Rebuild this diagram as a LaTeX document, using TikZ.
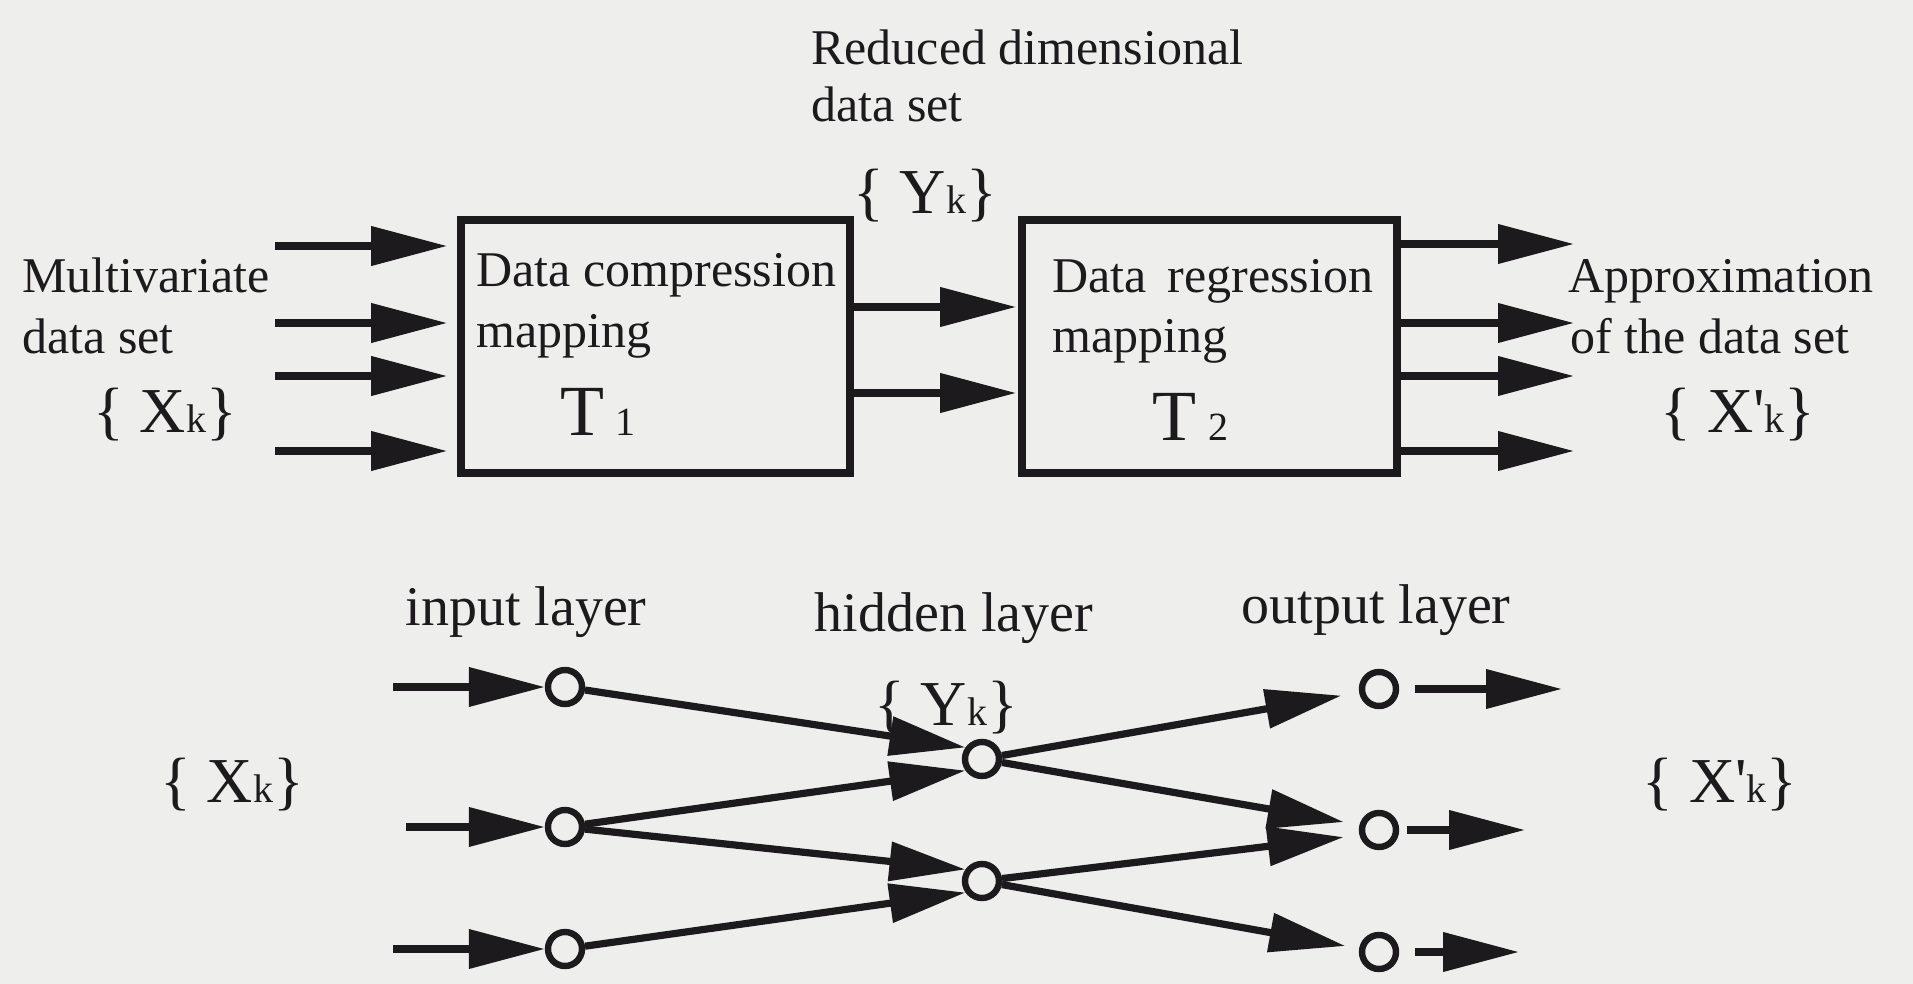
\documentclass[tikz,border=0pt]{standalone}
\usepackage{fontspec}
\setmainfont{Liberation Serif}
\usetikzlibrary{arrows.meta}
\definecolor{bg}{RGB}{238,238,236}
\definecolor{ink}{RGB}{28,26,28}
\newcommand{\smallsub}[1]{{\fontsize{20}{20}\selectfont #1}}
\begin{document}
\begin{tikzpicture}[x=0.5pt,y=-0.5pt,
  lbl/.style={font=\fontsize{25}{30}\selectfont, text=ink, inner sep=0pt},
  big/.style={font=\fontsize{32}{38}\selectfont, text=ink, inner sep=0pt},
  tbig/.style={font=\fontsize{36}{40}\selectfont, text=ink, inner sep=0pt},
  lay/.style={font=\fontsize{28}{34}\selectfont, text=ink, inner sep=0pt},
  box/.style={draw=ink, line width=3.8pt, inner sep=0pt},
  arr/.style={draw=ink, line width=3.6pt, -{Triangle[length=38pt,width=19pt]}},
  neuron/.style={circle, draw=ink, line width=3.2pt, minimum size=17pt, inner sep=0pt},
]
\fill[bg] (0,0) rectangle (1913,984);
\useasboundingbox (0,0) rectangle (1913,984);

% ---------- upper diagram ----------
\node[box, minimum width=194.5pt, minimum height=126.5pt] (b1) at (655.5,346.5) {};
\node[box, minimum width=187.5pt, minimum height=126.5pt] (b2) at (1209.5,346.5) {};

\node[lbl, anchor=base west] (red1) at (811,65) {Reduced dimensional};
\node[lbl, anchor=base west] (red2) at (811,122) {data set};
\node[big, anchor=base] (ytop) at (925,214) {\{ Y\smallsub{k}\}};

\node[lbl, anchor=base west] (mv1) at (22,293) {Multivariate};
\node[lbl, anchor=base west] (mv2) at (22,354) {data set};
\node[big, anchor=base] (xtop) at (165,432) {\{ X\smallsub{k}\}};

\node[lbl, anchor=base west] (dc1) at (476,287) {Data compression};
\node[lbl, anchor=base west] (dc2) at (476,348) {mapping};
\node[tbig, anchor=base] (t1) at (598,436) {T\,\smallsub{1}};

\node[lbl, anchor=base west] (dr1) at (1052,293) {Data\, regression};
\node[lbl, anchor=base west] (dr2) at (1052,353) {mapping};
\node[tbig, anchor=base] (t2) at (1190,441) {T\,\smallsub{2}};

\node[lbl, anchor=base west] (ap1) at (1568,293) {Approximation};
\node[lbl, anchor=base west] (ap2) at (1570,354) {of the data set};
\node[big, anchor=base] (xptop) at (1738,432) {\{ X\textquotesingle\smallsub{k}\}};

\coordinate (l1) at (275,246);
\coordinate (l2) at (275,323);
\coordinate (l3) at (275,376);
\coordinate (l4) at (275,451);
\foreach \c in {l1,l2,l3,l4}
  \draw[arr, shorten >=5pt] (\c) -- (\c -| b1.west);

\coordinate (m1) at (0,307);
\coordinate (m2) at (0,393);
\foreach \c in {m1,m2}
  \draw[arr, shorten >=1pt] (b1.east |- \c) -- (b2.west |- \c);

\coordinate (r1) at (1574,244);
\coordinate (r2) at (1574,323);
\coordinate (r3) at (1574,376);
\coordinate (r4) at (1574,451);
\foreach \c in {r1,r2,r3,r4}
  \draw[arr] (b2.east |- \c) -- (\c);

% ---------- lower diagram ----------
\node[lay, anchor=base] (inl) at (526,625) {input layer};
\node[lay, anchor=base] (hidl) at (954,631) {hidden layer};
\node[lay, anchor=base] (outl) at (1376,623) {output layer};

\node[big, anchor=base] (xbot) at (232,802) {\{ X\smallsub{k}\}};
\node[big, anchor=base] (ybot) at (946,725) {\{ Y\smallsub{k}\}};
\node[big, anchor=base] (xpbot) at (1720,802) {\{ X\textquotesingle\smallsub{k}\}};

\node[neuron] (i1) at (565,687) {};
\node[neuron] (i2) at (565,827) {};
\node[neuron] (i3) at (565,949) {};
\node[neuron] (h1) at (982,759) {};
\node[neuron] (h2) at (982,881) {};
\node[neuron] (o1) at (1379,689) {};
\node[neuron] (o2) at (1379,830) {};
\node[neuron] (o3) at (1379,952) {};

\coordinate (ia1) at (393,687);
\coordinate (ia2) at (406,827);
\coordinate (ia3) at (393,949);
\draw[arr] (ia1) -- (i1);
\draw[arr] (ia2) -- (i2);
\draw[arr] (ia3) -- (i3);

\draw[arr] (i1) -- (h1.145);
\draw[arr] (i2) -- (h1.215);
\draw[arr] (i2) -- (h2.145);
\draw[arr] (i3) -- (h2.215);

\draw[arr, shorten >=9pt] (h1) -- (o1);
\draw[arr, shorten >=8pt] (h1) -- (o2.165);
\draw[arr, shorten >=8pt] (h2) -- (o2.195);
\draw[arr, shorten >=7pt] (h2) -- (o3);

\coordinate (oa1) at (1562,689);
\coordinate (oa2) at (1525,830);
\coordinate (oa3) at (1519,952);
\draw[arr, shorten <=8pt] (o1) -- (oa1);
\draw[arr, shorten <=4pt] (o2) -- (oa2);
\draw[arr, shorten <=8pt] (o3) -- (oa3);
\end{tikzpicture}
\end{document}
